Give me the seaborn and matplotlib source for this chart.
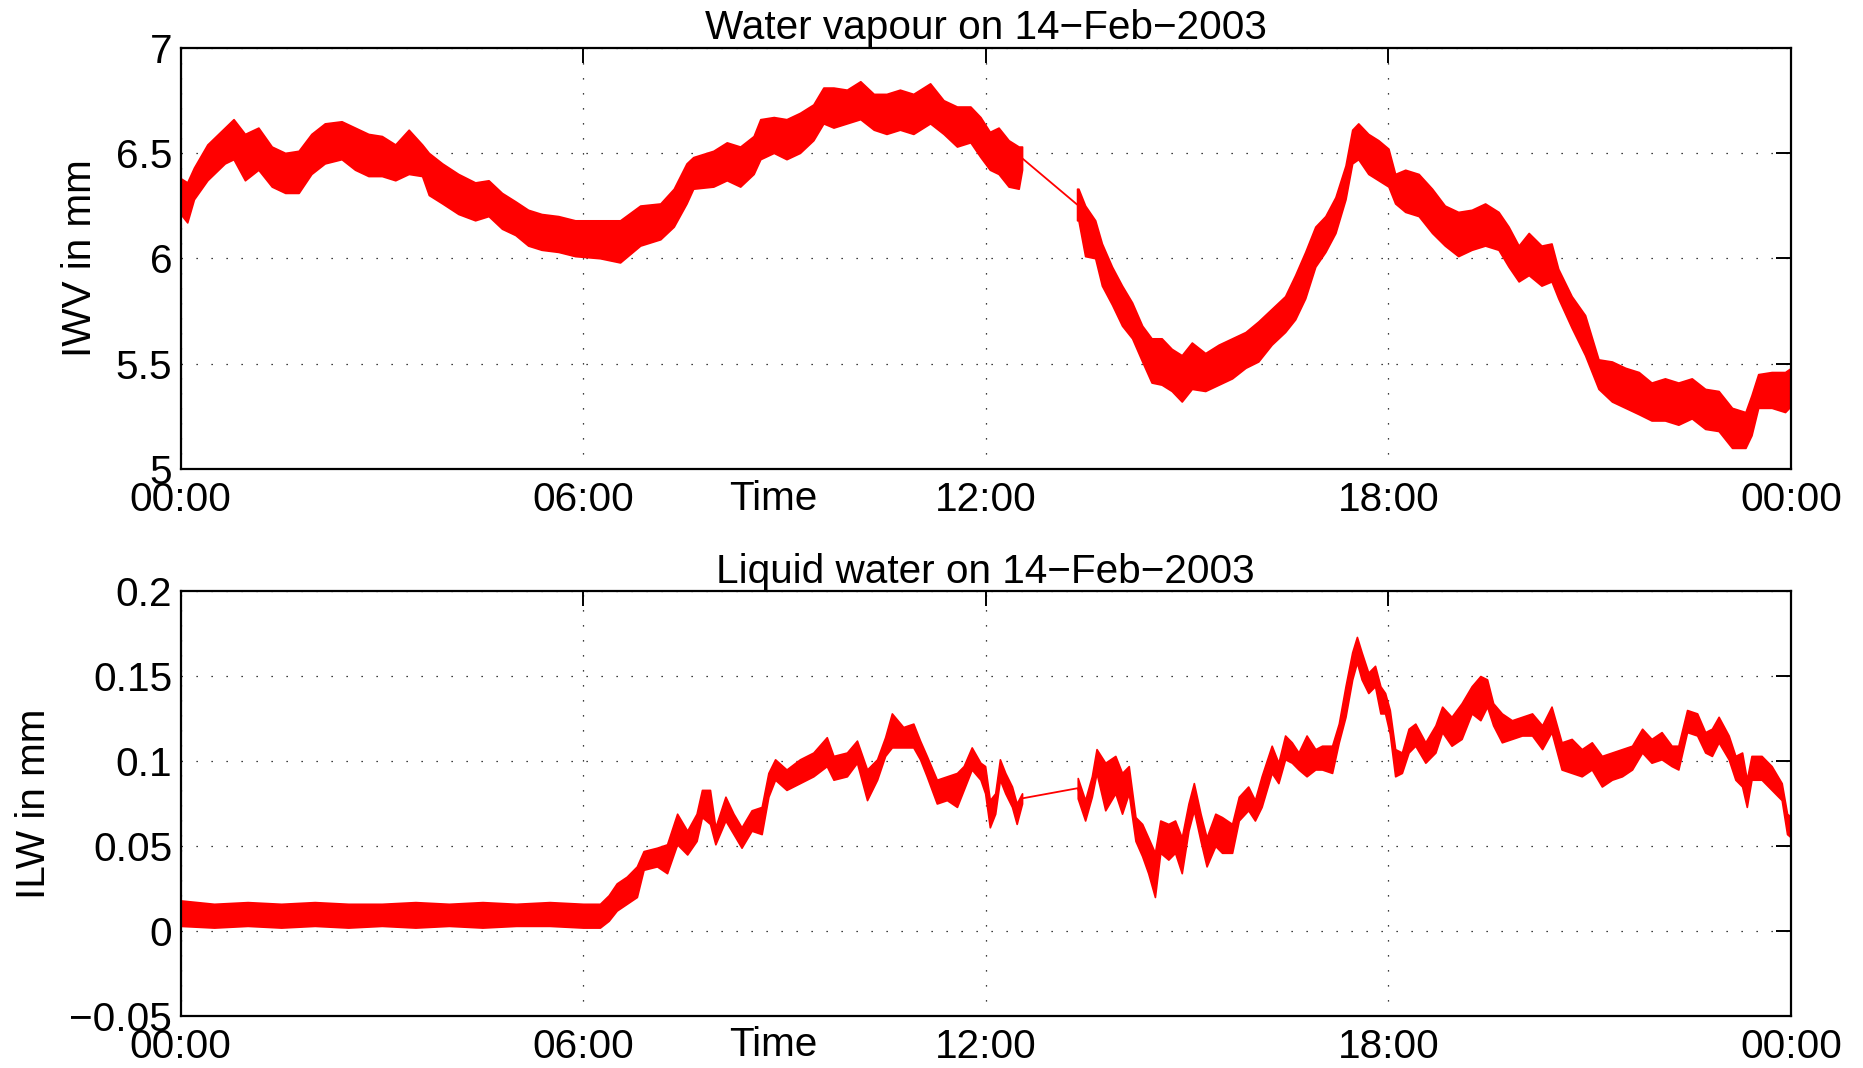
import numpy as np
import pandas as pd
import seaborn as sns
import matplotlib.pyplot as plt

# time of day in hours, with the low / high edge of the noisy trace
iwv_hours = [0.0, 0.1, 0.2, 0.4, 0.66, 0.79, 0.96, 1.16, 1.36, 1.56, 1.76, 1.95, 2.15, 2.4,
             2.6, 2.8, 3.0, 3.2, 3.4, 3.6, 3.7, 3.9, 4.14, 4.39, 4.59, 4.79, 4.99, 5.18,
             5.38, 5.63, 5.88, 6.25, 6.55, 6.85, 7.15, 7.35, 7.54, 7.64, 7.94, 8.14, 8.34,
             8.54, 8.64, 8.84, 9.03, 9.23, 9.43, 9.58, 9.73, 9.93, 10.13, 10.33, 10.52,
             10.72, 10.92, 11.17, 11.37, 11.57, 11.77, 11.92, 12.06, 12.19, 12.34, 12.49,
             12.54, 13.36, 13.38, 13.48, 13.63, 13.73, 13.88, 14.03, 14.18, 14.33, 14.47,
             14.62, 14.77, 14.92, 15.07, 15.27, 15.47, 15.67, 15.87, 16.06, 16.26, 16.46,
             16.61, 16.76, 16.91, 17.06, 17.21, 17.36, 17.46, 17.55, 17.70, 17.85, 18.0,
             18.1, 18.25, 18.45, 18.65, 18.84, 19.04, 19.24, 19.44, 19.64, 19.79, 19.94,
             20.09, 20.28, 20.43, 20.53, 20.73, 20.93, 21.13, 21.33, 21.53, 21.73, 21.92,
             22.12, 22.32, 22.52, 22.72, 22.92, 23.12, 23.32, 23.41, 23.51, 23.71, 23.91,
             24.0]
iwv_high = [6.38, 6.36, 6.43, 6.54, 6.62, 6.66, 6.59, 6.62, 6.53, 6.50, 6.51, 6.59, 6.64, 6.65,
            6.62, 6.59, 6.58, 6.54, 6.61, 6.54, 6.50, 6.45, 6.40, 6.36, 6.37, 6.31, 6.27, 6.23,
            6.21, 6.20, 6.18, 6.18, 6.18, 6.25, 6.26, 6.33, 6.45, 6.48, 6.51, 6.55, 6.53,
            6.58, 6.66, 6.67, 6.66, 6.69, 6.73, 6.81, 6.81, 6.80, 6.84, 6.78, 6.78,
            6.80, 6.78, 6.83, 6.75, 6.72, 6.72, 6.67, 6.60, 6.62, 6.56, 6.53,
            6.53, 6.33, 6.33, 6.25, 6.18, 6.07, 5.96, 5.87, 5.79, 5.68, 5.62,
            5.62, 5.57, 5.54, 5.60, 5.55, 5.59, 5.62, 5.65, 5.70, 5.76, 5.82,
            5.92, 6.03, 6.15, 6.20, 6.29, 6.44, 6.61, 6.64, 6.59, 6.56, 6.52,
            6.40, 6.42, 6.40, 6.33, 6.25, 6.22, 6.23, 6.26, 6.22, 6.15, 6.06,
            6.12, 6.06, 6.07, 5.95, 5.82, 5.73, 5.52, 5.51, 5.48, 5.46, 5.41,
            5.43, 5.41, 5.43, 5.38, 5.37, 5.29, 5.27, 5.35, 5.45, 5.46, 5.46,
            5.48]
iwv_low = [6.21, 6.17, 6.28, 6.37, 6.45, 6.47, 6.37, 6.42, 6.34, 6.31, 6.31, 6.40, 6.45, 6.47,
           6.42, 6.39, 6.39, 6.37, 6.40, 6.39, 6.30, 6.26, 6.21, 6.18, 6.20, 6.14, 6.11, 6.06,
           6.04, 6.03, 6.01, 6.00, 5.98, 6.06, 6.09, 6.15, 6.26, 6.33, 6.34, 6.37, 6.34,
           6.40, 6.47, 6.50, 6.47, 6.50, 6.56, 6.64, 6.62, 6.64, 6.66, 6.61, 6.59,
           6.61, 6.59, 6.64, 6.59, 6.53, 6.55, 6.48, 6.42, 6.40, 6.34, 6.33,
           6.42, 6.18, 6.18, 6.01, 6.00, 5.87, 5.78, 5.68, 5.62, 5.51, 5.41,
           5.40, 5.37, 5.32, 5.38, 5.37, 5.40, 5.43, 5.48, 5.51, 5.59, 5.65,
           5.71, 5.81, 5.96, 6.03, 6.12, 6.28, 6.45, 6.47, 6.40, 6.37, 6.34,
           6.26, 6.22, 6.20, 6.12, 6.06, 6.01, 6.04, 6.06, 6.04, 5.96, 5.89,
           5.92, 5.87, 5.89, 5.81, 5.67, 5.54, 5.38, 5.32, 5.29, 5.26, 5.23,
           5.23, 5.21, 5.24, 5.19, 5.18, 5.10, 5.10, 5.16, 5.29, 5.29, 5.27,
           5.30]

ilw_hours = [0.0, 0.5, 1.0, 1.5, 2.0, 2.5, 3.0, 3.5, 4.0, 4.5, 5.0, 5.5, 6.0, 6.25,
             6.38, 6.5, 6.65, 6.8, 6.9, 7.1, 7.25, 7.4, 7.55, 7.69, 7.77,
             7.89, 7.97, 8.12, 8.24, 8.36, 8.51, 8.66, 8.76, 8.86, 9.03, 9.23, 9.43, 9.63,
             9.73, 9.93, 10.08, 10.23, 10.38, 10.5, 10.6, 10.77, 10.92, 11.02, 11.12, 11.27,
             11.42, 11.57, 11.67, 11.79, 11.92, 11.99, 12.06, 12.14, 12.21, 12.29, 12.39,
             12.46, 12.54, 13.37, 13.48, 13.58, 13.65, 13.78, 13.93, 14.03, 14.13, 14.23,
             14.33, 14.42, 14.52, 14.6, 14.72, 14.82, 14.92, 15.02, 15.1, 15.2, 15.29, 15.42,
             15.52, 15.67, 15.77, 15.91, 16.01, 16.11, 16.26, 16.36, 16.46, 16.56, 16.66,
             16.78, 16.91, 17.01, 17.16, 17.26, 17.36, 17.46, 17.53, 17.6, 17.7, 17.8, 17.88,
             17.95, 18.02, 18.1, 18.2, 18.3, 18.4, 18.55, 18.7, 18.8, 18.94, 19.09, 19.24,
             19.37, 19.47, 19.56, 19.69, 19.84, 19.99, 20.14, 20.29, 20.43, 20.58, 20.73,
             20.88, 21.03, 21.18, 21.33, 21.48, 21.63, 21.78, 21.92, 22.07, 22.22, 22.32,
             22.45, 22.6, 22.72, 22.82, 22.92, 23.07, 23.17, 23.27, 23.34, 23.41, 23.56,
             23.71, 23.86, 23.94, 24.0]
ilw_high = [0.018, 0.016, 0.017, 0.016, 0.017, 0.016, 0.016, 0.017, 0.016, 0.017, 0.016, 0.017,
            0.016, 0.016, 0.021, 0.028, 0.032, 0.038, 0.047, 0.049, 0.051, 0.069,
            0.059, 0.069, 0.083, 0.083, 0.061, 0.079, 0.069, 0.061, 0.071, 0.073, 0.093, 0.101,
            0.095, 0.101, 0.105, 0.114, 0.103, 0.105, 0.112, 0.095, 0.101, 0.114, 0.128, 0.120,
            0.122, 0.112, 0.103, 0.089, 0.091, 0.093, 0.097, 0.108, 0.099, 0.097, 0.077, 0.081,
            0.101, 0.093, 0.085, 0.075, 0.081, 0.090, 0.077, 0.091, 0.107, 0.099, 0.103, 0.093,
            0.097, 0.067, 0.063, 0.055, 0.046, 0.065, 0.063, 0.065, 0.055, 0.075, 0.087, 0.069,
            0.055, 0.069, 0.067, 0.063, 0.079, 0.085, 0.077, 0.091, 0.109, 0.099, 0.115, 0.111,
            0.105, 0.115, 0.107, 0.109, 0.109, 0.122, 0.144, 0.164, 0.173, 0.164, 0.152, 0.156,
            0.144, 0.140, 0.130, 0.107, 0.105, 0.119, 0.122, 0.111, 0.121, 0.132, 0.126, 0.134,
            0.144, 0.150, 0.148, 0.134, 0.128, 0.124, 0.126, 0.128, 0.121, 0.132, 0.111, 0.113,
            0.107, 0.111, 0.103, 0.105, 0.107, 0.109, 0.119, 0.113, 0.117, 0.109, 0.109, 0.130,
            0.128, 0.117, 0.119, 0.126, 0.115, 0.103, 0.105, 0.089, 0.103, 0.103, 0.097, 0.087,
            0.069, 0.067]
ilw_low = [0.003, 0.002, 0.003, 0.002, 0.003, 0.002, 0.003, 0.002, 0.003, 0.002, 0.003, 0.003,
           0.002, 0.002, 0.006, 0.012, 0.016, 0.020, 0.036, 0.038, 0.034, 0.051,
           0.045, 0.053, 0.067, 0.063, 0.051, 0.065, 0.057, 0.049, 0.059, 0.057, 0.079, 0.089,
           0.083, 0.087, 0.091, 0.097, 0.089, 0.091, 0.099, 0.077, 0.089, 0.103, 0.108, 0.108,
           0.108, 0.101, 0.091, 0.075, 0.077, 0.073, 0.083, 0.095, 0.089, 0.081, 0.061, 0.069,
           0.089, 0.081, 0.073, 0.063, 0.075, 0.078, 0.065, 0.079, 0.093, 0.071, 0.081, 0.069,
           0.081, 0.053, 0.044, 0.034, 0.020, 0.046, 0.042, 0.046, 0.034, 0.059, 0.071, 0.053,
           0.038, 0.050, 0.046, 0.046, 0.065, 0.071, 0.065, 0.073, 0.093, 0.087, 0.101, 0.099,
           0.095, 0.091, 0.095, 0.095, 0.093, 0.111, 0.126, 0.148, 0.158, 0.148, 0.140, 0.144,
           0.128, 0.128, 0.116, 0.091, 0.093, 0.105, 0.109, 0.099, 0.105, 0.117, 0.109, 0.113,
           0.128, 0.124, 0.132, 0.121, 0.111, 0.113, 0.115, 0.115, 0.107, 0.117, 0.095, 0.093,
           0.091, 0.095, 0.085, 0.089, 0.091, 0.095, 0.105, 0.099, 0.101, 0.097, 0.095, 0.117,
           0.115, 0.105, 0.103, 0.111, 0.101, 0.089, 0.085, 0.073, 0.089, 0.089, 0.083, 0.077,
           0.057, 0.055]

hour_ticks = [0, 6, 12, 18, 24]
hour_labels = ['00:00', '06:00', '12:00', '18:00', '00:00']
iwv_ticks = [5, 5.5, 6, 6.5, 7]
iwv_labels = ['5', '5.5', '6', '6.5', '7']
ilw_ticks = [-0.05, 0, 0.05, 0.1, 0.15, 0.2]
ilw_labels = ['\u22120.05', '0', '0.05', '0.1', '0.15', '0.2']

sns.set_style('white')
plt.rcParams['font.family'] = ['Liberation Sans', 'DejaVu Sans']
plt.rcParams['text.color'] = 'black'
plt.rcParams['axes.labelcolor'] = 'black'
FS = 29.2

fig = plt.figure(figsize=(18.63, 10.68), dpi=100)
ax1 = fig.add_axes([0.0969, 0.5609, 0.8645, 0.3946])
ax2 = fig.add_axes([0.0969, 0.0487, 0.8645, 0.3979])


def draw_trace(ax, hours, low, high):
    df = pd.DataFrame({'hour': hours, 'low': low, 'high': high})
    df['mid'] = (df['low'] + df['high']) / 2
    # the record has one gap (no data ~12:30-13:20); fill the band either side of it
    gap = int(np.argmax(np.diff(df['hour'].values)))
    for part in (df.iloc[:gap + 1], df.iloc[gap + 1:]):
        ax.fill_between(part['hour'], part['low'], part['high'], color='red', lw=1.2)
    sns.lineplot(data=df, x='hour', y='mid', ax=ax, color='red', lw=1.3,
                 estimator=None, sort=True)


def style_axes(ax, title, ylabel, yticks, ylabels, ylim, time_y):
    ax.set_xlim(0, 24)
    ax.set_ylim(*ylim)
    ax.set_xticks(hour_ticks)
    ax.set_xticklabels(hour_labels)
    ax.set_yticks(yticks)
    ax.set_yticklabels(ylabels)
    ax.grid(True, color='black', lw=0.9, linestyle=(0, (1, 11)))
    ax.tick_params(direction='in', top=True, right=True, length=11, width=1.4,
                   labelsize=FS, pad=6, colors='black')
    ax.tick_params(axis='x', pad=9)
    for s in ax.spines.values():
        s.set_linewidth(1.6)
        s.set_color('black')
    ax.set_title(title, fontsize=FS, pad=6)
    ax.set_ylabel(ylabel, fontsize=FS, labelpad=12)
    ax.set_xlabel('Time', fontsize=FS)
    ax.xaxis.set_label_coords(0.368, time_y)


draw_trace(ax1, iwv_hours, iwv_low, iwv_high)
style_axes(ax1, 'Water vapour on 14\u2212Feb\u22122003', 'IWV in mm',
           iwv_ticks, iwv_labels, (5, 7), -0.026)

draw_trace(ax2, ilw_hours, ilw_low, ilw_high)
style_axes(ax2, 'Liquid water on 14\u2212Feb\u22122003', 'ILW in mm',
           ilw_ticks, ilw_labels, (-0.05, 0.2), -0.024)

fig.savefig('out.png', dpi=100)
